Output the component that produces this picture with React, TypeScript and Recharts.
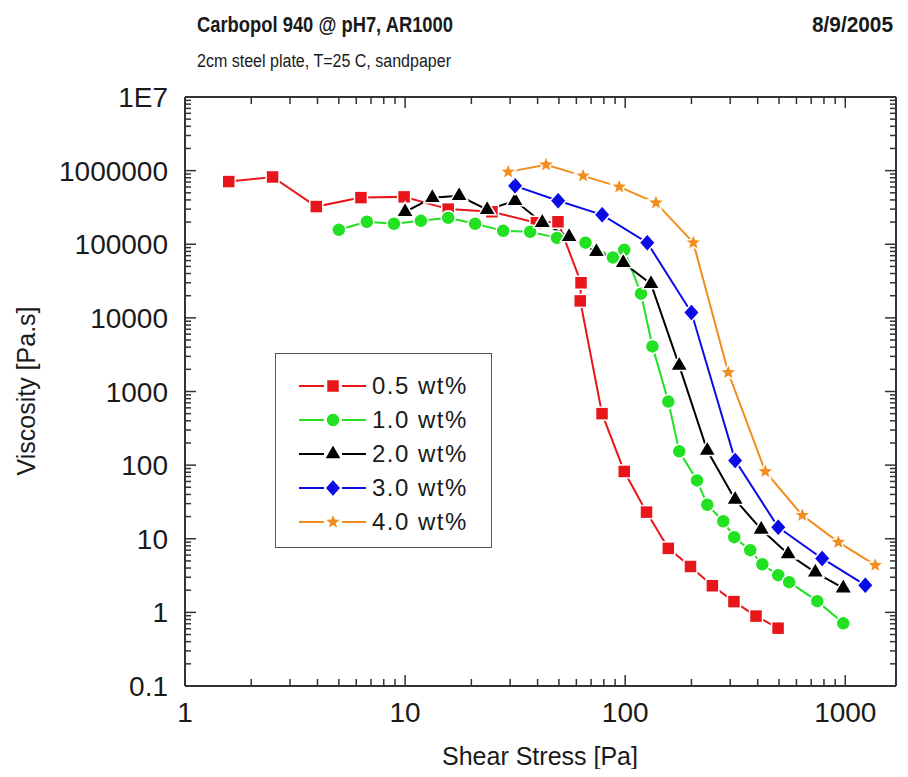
import React from "react";
import { LineChart, Line, XAxis, YAxis, Legend } from "recharts";

// shear stress [Pa] / viscosity [Pa.s] per concentration
const stress05 = [1.58, 2.5, 3.95, 6.3, 9.9, 15.7, 24.8, 39.5, 49.5, 63, 62.5, 78.5, 99, 125, 157, 198, 249, 312, 393, 495];
const visc05 = [710000, 820000, 325000, 430000, 440000, 300000, 276000, 196000, 202000, 30000, 17000, 500, 82, 23, 7.4, 4.2, 2.3, 1.4, 0.89, 0.61];

const stress10 = [5.0, 6.7, 8.9, 11.8, 15.7, 20.8, 27.9, 37, 49, 66, 88, 99, 118, 133, 157, 176, 212, 236, 279, 313, 370, 420, 496, 556, 746, 979];
const visc10 = [157000, 202000, 190000, 208000, 229000, 190000, 152000, 148000, 122000, 105000, 66000, 84000, 21300, 4100, 730, 154, 62, 29, 17.3, 10.5, 7.0, 4.5, 3.2, 2.57, 1.42, 0.71];

const stress20 = [10, 13.3, 17.6, 23.6, 31.6, 42, 55.6, 74, 98, 131, 176, 236, 316, 415, 550, 731, 979];
const visc20 = [276000, 427000, 455000, 294000, 389000, 196000, 126000, 79000, 56000, 29000, 2250, 158, 34, 13.4, 6.2, 3.5, 2.13];

const stress30 = [31.6, 49.6, 78.6, 126, 200, 316, 496, 785, 1233];
const visc30 = [621000, 389000, 251000, 105000, 11800, 116, 14.3, 5.4, 2.34];

const stress40 = [29.4, 43.7, 64.4, 94, 138, 204, 294, 433, 638, 930, 1368];
const visc40 = [962000, 1200000, 849000, 602000, 366000, 105000, 1810, 82, 20.8, 9.0, 4.37];

const xMajor = [1, 10, 100, 1000];
const xMajorLabels = ["1", "10", "100", "1000"];
const yMajor = [0.1, 1, 10, 100, 1000, 10000, 100000, 1000000, 10000000];
const yMajorLabels = ["0.1", "1", "10", "100", "1000", "10000", "100000", "1000000", "1E7"];

const X_MAX = 1700;

const SANS = "'Liberation Sans', Arial, Helvetica, sans-serif";
const NARROW = "'Liberation Sans Narrow', 'Arial Narrow', 'Liberation Sans', Arial, sans-serif";
const FRAME = "#333";
const INK = "#1a1a1a";

type Pt = { x: number; y: number };
const zip = (xs: number[], ys: number[]): Pt[] => xs.map((x, i) => ({ x, y: ys[i] }));

const series = [
  { name: "0.5 wt%", color: "#e8161b", shape: "square", data: zip(stress05, visc05) },
  { name: "1.0 wt%", color: "#22e022", shape: "circle", data: zip(stress10, visc10) },
  { name: "2.0 wt%", color: "#000000", shape: "triangle", data: zip(stress20, visc20) },
  { name: "3.0 wt%", color: "#0b0be8", shape: "diamond", data: zip(stress30, visc30) },
  { name: "4.0 wt%", color: "#f28c1c", shape: "star", data: zip(stress40, visc40) },
];

// log ticks: decades plus 2..9 in between, clipped to the domain
function logTicks(lo: number, hi: number, max: number) {
  const out: number[] = [];
  for (let d = lo; d <= hi; d++) {
    for (let k = 1; k <= 9; k++) {
      const v = Number((k * Math.pow(10, d)).toPrecision(6));
      if (v <= max) out.push(v);
    }
  }
  return out;
}
const xTicks = logTicks(0, 3, X_MAX);
const yTicks = logTicks(-1, 7, 1e7);

const majorIndex = (list: number[], v: number) =>
  list.findIndex((m) => Math.abs(Math.log10(m) - Math.log10(v)) < 1e-6);

function Marker({ shape, cx, cy, color }: { shape: string; cx: number; cy: number; color: string }) {
  const p = { fill: color, stroke: "#fff", strokeWidth: 1.5 };
  if (shape === "square") return <rect x={cx - 6.5} y={cy - 6.5} width={13} height={13} {...p} />;
  if (shape === "circle") return <circle cx={cx} cy={cy} r={7} {...p} />;
  if (shape === "triangle")
    return <polygon points={`${cx},${cy - 10} ${cx - 8.7},${cy + 5} ${cx + 8.7},${cy + 5}`} {...p} />;
  if (shape === "diamond")
    return <polygon points={`${cx},${cy - 9} ${cx + 8},${cy} ${cx},${cy + 9} ${cx - 8},${cy}`} {...p} />;
  const pts: string[] = [];
  for (let i = 0; i < 10; i++) {
    const r = i % 2 === 0 ? 9 : 3.9;
    const a = -Math.PI / 2 + (i * Math.PI) / 5;
    pts.push(`${cx + r * Math.cos(a)},${cy + r * Math.sin(a)}`);
  }
  return <polygon points={pts.join(" ")} {...p} />;
}

function BottomTick(props: any) {
  const { x, y, payload } = props;
  const i = majorIndex(xMajor, payload.value);
  return (
    <g>
      <line x1={x} x2={x} y1={y} y2={y - (i >= 0 ? 11 : 7)} stroke={FRAME} strokeWidth={1.5} />
      {i >= 0 && (
        <text x={x} y={y + 36} textAnchor="middle" fontSize={28} fontFamily={SANS} fill={INK}>
          {xMajorLabels[i]}
        </text>
      )}
    </g>
  );
}

function TopTick(props: any) {
  const { x, y, payload } = props;
  const major = majorIndex(xMajor, payload.value) >= 0;
  return <line x1={x} x2={x} y1={y} y2={y + (major ? 11 : 7)} stroke={FRAME} strokeWidth={1.5} />;
}

function LeftTick(props: any) {
  const { x, y, payload } = props;
  const i = majorIndex(yMajor, payload.value);
  return (
    <g>
      <line x1={x} x2={x + (i >= 0 ? 11 : 6)} y1={y} y2={y} stroke={FRAME} strokeWidth={1.5} />
      {i >= 0 && (
        <text x={x - 17} y={y} dy="0.36em" textAnchor="end" fontSize={28} fontFamily={SANS} fill={INK}>
          {yMajorLabels[i]}
        </text>
      )}
    </g>
  );
}

function RightTick(props: any) {
  const { x, y, payload } = props;
  const major = majorIndex(yMajor, payload.value) >= 0;
  return <line x1={x} x2={x - (major ? 11 : 6)} y1={y} y2={y} stroke={FRAME} strokeWidth={1.5} />;
}

function LegendBox({ payload }: { payload?: any[] }) {
  return (
    <div
      style={{
        boxSizing: "border-box",
        width: 217,
        height: 195,
        border: "1.5px solid #555",
        background: "#fff",
        paddingTop: 15,
      }}
    >
      {(payload || []).map((entry) => {
        const s = series.find((d) => d.name === entry.value)!;
        return (
          <div key={s.name} style={{ display: "flex", alignItems: "center", height: 34 }}>
            <svg width={96} height={34} style={{ flex: "none" }}>
              <line x1={23} x2={48} y1={17} y2={17} stroke={s.color} strokeWidth={2} />
              <line x1={66} x2={90} y1={17} y2={17} stroke={s.color} strokeWidth={2} />
              <Marker shape={s.shape} cx={57} cy={17} color={s.color} />
            </svg>
            <span style={{ fontFamily: SANS, fontSize: 24, letterSpacing: 1.5, color: INK, lineHeight: "34px" }}>
              {s.name}
            </span>
          </div>
        );
      })}
    </div>
  );
}

export default function App() {
  const axisLine = { stroke: FRAME, strokeWidth: 2 };
  return (
    <div style={{ position: "relative", width: 892, height: 761 }}>
      <svg
        width={892}
        height={761}
        style={{ position: "absolute", left: 0, top: 0, pointerEvents: "none" }}
      >
        <text
          x={189}
          y={24}
          fontFamily={NARROW}
          fontWeight="bold"
          fontSize={22}
          fill={INK}
          textLength={256}
          lengthAdjust="spacingAndGlyphs"
        >
          Carbopol 940 @ pH7, AR1000
        </text>
        <text
          x={804}
          y={24}
          fontFamily={NARROW}
          fontWeight="bold"
          fontSize={22}
          fill={INK}
          textLength={81}
          lengthAdjust="spacingAndGlyphs"
        >
          8/9/2005
        </text>
        <text
          x={189}
          y={59}
          fontFamily={NARROW}
          fontSize={18}
          fill={INK}
          textLength={254}
          lengthAdjust="spacingAndGlyphs"
        >
          2cm steel plate, T=25 C, sandpaper
        </text>
        <text x={532} y={757} textAnchor="middle" fontFamily={SANS} fontSize={25} fill={INK}>
          Shear Stress [Pa]
        </text>
        <text
          x={0}
          y={0}
          transform="translate(27 383) rotate(-90)"
          textAnchor="middle"
          fontFamily={SANS}
          fontSize={25}
          fill={INK}
        >
          Viscosity [Pa.s]
        </text>
      </svg>
      <LineChart width={892} height={761} margin={{ top: 0, right: 0, bottom: 0, left: 0 }}>
        <XAxis
          xAxisId="b"
          type="number"
          dataKey="x"
          scale="log"
          domain={[1, X_MAX]}
          allowDataOverflow
          ticks={xTicks}
          interval={0}
          height={83}
          tickSize={0}
          tickMargin={0}
          tickLine={false}
          axisLine={axisLine}
          tick={(p: any) => <BottomTick {...p} />}
        />
        <XAxis
          xAxisId="t"
          orientation="top"
          type="number"
          dataKey="x"
          scale="log"
          domain={[1, X_MAX]}
          allowDataOverflow
          ticks={xTicks}
          interval={0}
          height={89}
          tickSize={0}
          tickMargin={0}
          tickLine={false}
          axisLine={axisLine}
          tick={(p: any) => <TopTick {...p} />}
        />
        <YAxis
          yAxisId="l"
          type="number"
          scale="log"
          domain={[0.1, 1e7]}
          allowDataOverflow
          ticks={yTicks}
          interval={0}
          width={177}
          tickSize={0}
          tickMargin={0}
          tickLine={false}
          axisLine={axisLine}
          tick={(p: any) => <LeftTick {...p} />}
        />
        <YAxis
          yAxisId="r"
          orientation="right"
          type="number"
          scale="log"
          domain={[0.1, 1e7]}
          allowDataOverflow
          ticks={yTicks}
          interval={0}
          width={4}
          tickSize={0}
          tickMargin={0}
          tickLine={false}
          axisLine={axisLine}
          tick={(p: any) => <RightTick {...p} />}
        />
        <Legend
          layout="vertical"
          align="center"
          verticalAlign="middle"
          wrapperStyle={{ left: 267, top: 345, width: 217, height: 195 }}
          content={(props: any) => <LegendBox payload={props.payload} />}
        />
        {series.map((s) => (
          <Line
            key={s.name}
            name={s.name}
            data={s.data}
            dataKey="y"
            xAxisId="b"
            yAxisId="l"
            type="linear"
            stroke={s.color}
            strokeWidth={2}
            isAnimationActive={false}
            activeDot={false}
            dot={(p: any) => <Marker key={`${s.name}-${p.index}`} shape={s.shape} cx={p.cx} cy={p.cy} color={s.color} />}
          />
        ))}
      </LineChart>
    </div>
  );
}
